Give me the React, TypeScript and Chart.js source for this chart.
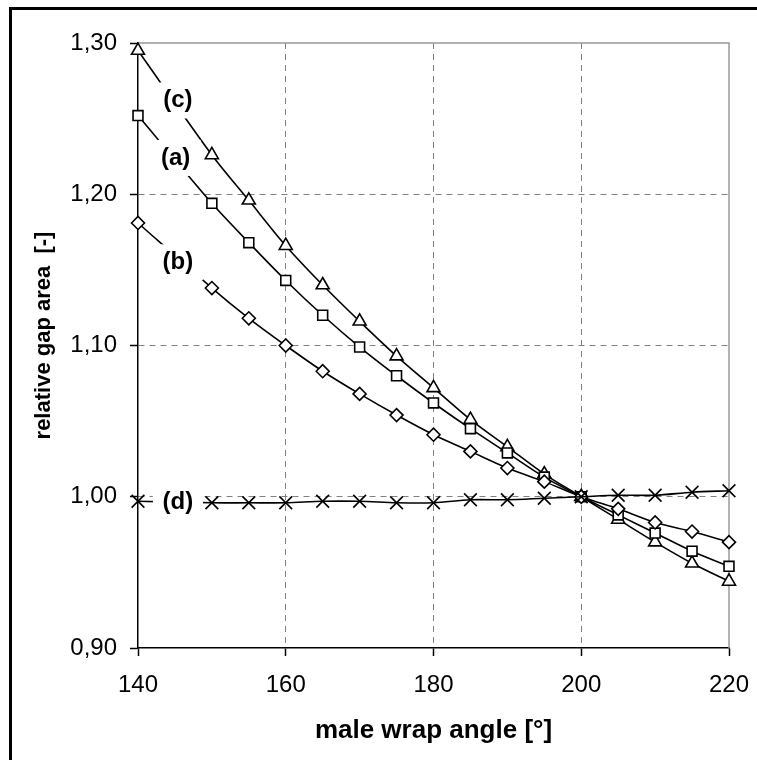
import { useEffect, useRef } from 'react';
import { Chart, registerables } from 'chart.js';

Chart.register(...registerables);

// male wrap angle [°]
const angles = [140, 150, 155, 160, 165, 170, 175, 180, 185, 190, 195, 200, 205, 210, 215, 220];
// (a) squares
const seriesA = [1.252, 1.194, 1.168, 1.143, 1.120, 1.099, 1.080, 1.062, 1.045, 1.029, 1.013, 1.000, 0.988, 0.976, 0.964, 0.954];
// (b) diamonds
const seriesB = [1.181, 1.138, 1.118, 1.100, 1.083, 1.068, 1.054, 1.041, 1.030, 1.019, 1.010, 1.000, 0.992, 0.983, 0.977, 0.970];
// (c) triangles
const seriesC = [1.295, 1.226, 1.196, 1.166, 1.140, 1.116, 1.093, 1.072, 1.051, 1.033, 1.015, 1.000, 0.985, 0.970, 0.956, 0.944];
// (d) crosses
const seriesD = [0.997, 0.996, 0.996, 0.996, 0.997, 0.997, 0.996, 0.996, 0.998, 0.998, 0.999, 1.000, 1.001, 1.001, 1.003, 1.004];

const xTicks = [140, 160, 180, 200, 220];
const yTicks = [0.9, 1.0, 1.1, 1.2, 1.3];

const labelTexts = ['(c)', '(a)', '(b)', '(d)'];
const labelX = [145.4, 145.1, 145.4, 145.4];
const labelY = [1.262, 1.224, 1.155, 0.9965];

const xTitle = 'male wrap angle [°]';
const yTitle = 'relative gap area  [-]';

const FONT = "'Liberation Sans', Arial, sans-serif";

function toPoints(vals: number[]) {
  return angles.map((a, i) => ({ x: a, y: vals[i] }));
}

export default function App() {
  const ref = useRef<HTMLCanvasElement>(null);

  useEffect(() => {
    const canvas = ref.current;
    if (!canvas) return;

    const decor = {
      id: 'decor',
      beforeDraw(chart: any) {
        const { ctx, width, height } = chart;
        ctx.save();
        ctx.fillStyle = '#fff';
        ctx.fillRect(0, 0, width, height);
        ctx.fillStyle = '#000';
        ctx.fillRect(9, 7, width - 9, 3);
        ctx.fillRect(9, 7, 3, height - 7);
        ctx.restore();
      },
      beforeDatasetsDraw(chart: any) {
        const { ctx, chartArea } = chart;
        ctx.save();
        ctx.strokeStyle = '#999';
        ctx.lineWidth = 1.5;
        ctx.beginPath();
        ctx.moveTo(chartArea.left, chartArea.top);
        ctx.lineTo(chartArea.right, chartArea.top);
        ctx.lineTo(chartArea.right, chartArea.bottom);
        ctx.stroke();
        ctx.restore();
      },
      afterDatasetsDraw(chart: any) {
        const { ctx, chartArea } = chart;
        const xs = chart.scales.x;
        const ys = chart.scales.y;
        ctx.save();
        ctx.font = `bold 24px ${FONT}`;
        ctx.textAlign = 'center';
        ctx.textBaseline = 'middle';
        labelTexts.forEach((t, i) => {
          const px = xs.getPixelForValue(labelX[i]);
          const py = ys.getPixelForValue(labelY[i]);
          ctx.fillStyle = '#fff';
          ctx.fillRect(px - 25, py - 18, 50, 36);
          ctx.fillStyle = '#000';
          ctx.fillText(t, px, py);
        });
        // y axis title, slightly above the plot centre as in the reference
        ctx.font = `bold 22px ${FONT}`;
        ctx.translate(44, (chartArea.top + chartArea.bottom) / 2 - 10);
        ctx.rotate(-Math.PI / 2);
        ctx.fillText(yTitle, 0, 0);
        ctx.restore();
      },
    };

    const common = {
      borderColor: '#000',
      borderWidth: 1.6,
      pointBackgroundColor: '#fff',
      pointBorderColor: '#000',
      pointBorderWidth: 1.6,
      tension: 0.3,
      clip: false as any,
      fill: false,
    };

    const edgeColor = (min: number, max: number) => (c: any) => {
      const v = c.tick ? c.tick.value : NaN;
      if (Math.abs(v - min) < 1e-6 || Math.abs(v - max) < 1e-6) return 'rgba(0,0,0,0)';
      return '#808080';
    };

    const chart = new Chart(canvas, {
      type: 'line',
      data: {
        datasets: [
          { ...common, label: '(d)', data: toPoints(seriesD), pointStyle: 'crossRot', pointRadius: 9 },
          { ...common, label: '(b)', data: toPoints(seriesB), pointStyle: 'rectRot', pointRadius: 6.5 },
          { ...common, label: '(a)', data: toPoints(seriesA), pointStyle: 'rect', pointRadius: 7 },
          { ...common, label: '(c)', data: toPoints(seriesC), pointStyle: 'triangle', pointRadius: 7.5 },
        ],
      },
      options: {
        responsive: false,
        animation: false,
        devicePixelRatio: 1,
        layout: { padding: { top: 43, right: 28, left: 0, bottom: 0 } },
        plugins: {
          legend: { display: false },
          tooltip: { enabled: false },
        },
        scales: {
          x: {
            type: 'linear',
            min: xTicks[0],
            max: xTicks[xTicks.length - 1],
            afterBuildTicks: (s: any) => { s.ticks = xTicks.map((v) => ({ value: v })); },
            afterFit: (s: any) => {
              s.height = 112;
              s.paddingLeft = 0;
              s.paddingRight = 0;
            },
            ticks: {
              color: '#000',
              font: { family: FONT, size: 24 },
              padding: 15,
              maxRotation: 0,
              autoSkip: false,
              callback: (v: any) => String(v),
            },
            grid: {
              color: edgeColor(140, 220),
              lineWidth: 1,
              tickLength: 8,
              tickColor: '#000',
              tickWidth: 1.5,
            },
            border: { display: true, color: '#000', width: 1.5, dash: [6, 5] },
            title: {
              display: true,
              text: xTitle,
              color: '#000',
              font: { family: FONT, size: 26, weight: 'bold' },
              padding: { top: 0, bottom: 14 },
            },
          },
          y: {
            type: 'linear',
            min: yTicks[0],
            max: yTicks[yTicks.length - 1],
            afterBuildTicks: (s: any) => { s.ticks = yTicks.map((v) => ({ value: v })); },
            afterFit: (s: any) => {
              s.width = 138;
              s.paddingTop = 0;
              s.paddingBottom = 0;
            },
            ticks: {
              color: '#000',
              font: { family: FONT, size: 24 },
              padding: 13,
              autoSkip: false,
              callback: (v: any) => Number(v).toFixed(2).replace('.', ','),
            },
            grid: {
              color: edgeColor(0.9, 1.3),
              lineWidth: 1,
              tickLength: 8,
              tickColor: '#000',
              tickWidth: 1.5,
            },
            border: { display: true, color: '#000', width: 1.5, dash: [6, 5] },
            title: { display: false },
          },
        },
      },
      plugins: [decor],
    } as any);

    return () => chart.destroy();
  }, []);

  return (
    <div style={{ position: 'absolute', left: 0, top: 0, width: 757, height: 760 }}>
      <canvas ref={ref} width={757} height={760} style={{ display: 'block', width: 757, height: 760 }} />
    </div>
  );
}
